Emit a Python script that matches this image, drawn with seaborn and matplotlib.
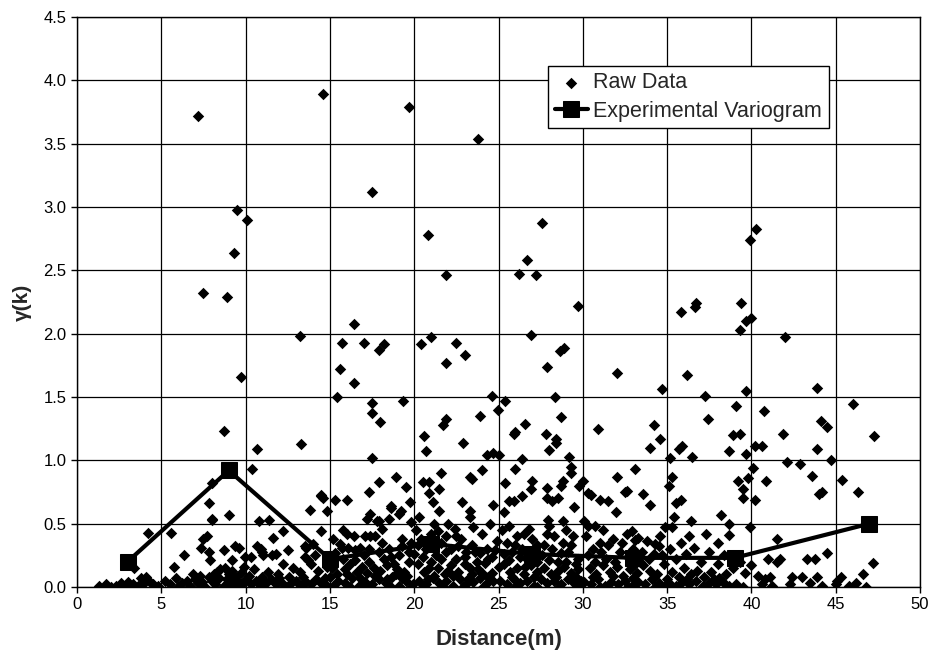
import matplotlib
matplotlib.use("Agg")
import matplotlib.pyplot as plt
import seaborn as sns
import pandas as pd

# Lag centres and semivariance of the experimental variogram
lag_dist = [3, 9, 15, 21, 27, 33, 39, 47]
lag_gamma = [0.20, 0.92, 0.22, 0.34, 0.26, 0.23, 0.23, 0.50]

# Raw semivariance cloud, grouped by 5 m distance band
dist_00_05 = [1.3, 1.7, 2.0, 2.3, 2.6, 2.9, 3.0, 3.3, 3.6, 3.8, 4.0, 4.1, 4.3, 4.5, 4.6, 4.8,
              3.4, 4.2]
gamma_00_05 = [0.01, 0.02, 0.00, 0.01, 0.03, 0.00, 0.04, 0.02, 0.01, 0.07, 0.03, 0.08, 0.05, 0.02, 0.00, 0.01,
               0.15, 0.43]

dist_05_10 = [7.2, 9.5, 9.3, 7.5, 8.9, 9.7, 8.7, 8.0, 7.8, 8.0, 9.0, 5.6, 7.7, 7.5, 7.35, 7.8, 8.7, 9.4,
              9.6, 6.35, 7.9, 9.2, 9.96, 5.75, 7.8, 8.5, 8.8, 8.3, 9.2, 9.7, 9.9, 8.0,
              5.5, 5.9, 6.2, 6.7, 7.2, 7.6, 8.2, 8.7, 9.2, 9.8, 6.0, 6.5, 7.0, 7.4, 8.0, 8.4,
              8.9, 9.4, 9.6, 10.0, 5.2, 6.9, 7.3, 8.1, 9.0, 9.5, 9.1]
gamma_05_10 = [3.72, 2.98, 2.64, 2.32, 2.29, 1.66, 1.23, 0.82, 0.66, 0.535, 0.57, 0.43, 0.40, 0.38, 0.305, 0.28, 0.29, 0.32,
               0.305, 0.25, 0.21, 0.21, 0.24, 0.16, 0.08, 0.14, 0.15, 0.12, 0.13, 0.11, 0.16, 0.53,
               0.02, 0.07, 0.03, 0.01, 0.03, 0.00, 0.02, 0.01, 0.03, 0.02, 0.00, 0.05, 0.06, 0.04, 0.05, 0.07,
               0.06, 0.08, 0.04, 0.06, 0.05, 0.10, 0.09, 0.10, 0.10, 0.00, 0.01]

dist_10_15 = [10.06, 14.6, 13.2, 10.7, 13.3, 10.4, 10.8, 11.4, 12.2, 11.65, 14.5, 14.5, 14.45, 14.6, 13.8, 14.8,
              10.7, 12.5, 13.5, 13.6, 10.3, 11.05, 11.55, 13.5, 13.7, 10.9, 11.0, 11.8, 12.2, 12.8, 14.0,
              14.1, 13.9, 11.3, 11.9, 12.6, 13.2, 14.3, 14.8, 10.5, 10.2,
              10.3, 10.6, 10.9, 11.2, 11.5, 11.8, 12.1, 12.4, 12.7, 13.0, 13.3, 13.6, 13.9, 14.2, 14.5,
              14.8, 12.0, 13.4, 14.7, 11.0]
gamma_10_15 = [2.90, 3.89, 1.985, 1.09, 1.13, 0.93, 0.52, 0.53, 0.445, 0.39, 0.44, 0.72, 0.73, 0.70, 0.61, 0.60,
               0.32, 0.29, 0.32, 0.31, 0.24, 0.25, 0.25, 0.24, 0.21, 0.30, 0.28, 0.26, 0.18, 0.15, 0.34,
               0.25, 0.18, 0.12, 0.10, 0.08, 0.12, 0.13, 0.16, 0.14, 0.09,
               0.02, 0.05, 0.01, 0.03, 0.06, 0.02, 0.04, 0.00, 0.03, 0.05, 0.01, 0.04, 0.02, 0.06, 0.03,
               0.01, 0.07, 0.08, 0.07, 0.08]

dist_15_20 = [17.5, 19.7, 16.4, 15.7, 17.0, 17.9, 18.2, 15.6, 16.4, 15.4, 17.5, 17.5, 18.0, 19.35, 17.5,
              16.0, 15.3, 17.3, 17.9, 18.9, 19.5, 19.75, 18.6, 18.6, 19.2, 19.1, 17.4, 17.2, 17.8, 17.9,
              18.5, 19.8, 15.2, 16.0, 16.4, 17.1, 17.4, 18.1, 19.3, 19.8, 15.7, 16.5, 16.8,
              15.1, 15.4, 15.8, 16.2, 16.6, 17.0, 17.3, 17.6, 17.9, 18.2, 18.5, 18.8, 19.1, 19.4, 19.7,
              15.5, 15.9, 16.3, 16.7, 17.1, 17.5, 17.9, 18.3, 18.7, 19.1, 19.5, 19.9, 15.2, 16.0, 17.2,
              18.0, 18.9, 19.6, 16.9, 18.4, 19.3, 15.6,
              15.3, 15.9, 16.1, 16.5, 16.8, 17.3, 17.7, 18.1, 18.4, 18.6, 19.0, 19.3, 19.7, 15.8, 17.7,
              16.2, 17.4, 18.6, 19.8, 15.0]
gamma_15_20 = [3.12, 3.79, 2.08, 1.93, 1.925, 1.87, 1.92, 1.72, 1.61, 1.50, 1.45, 1.37, 1.30, 1.47, 1.02,
               0.69, 0.69, 0.75, 0.83, 0.87, 0.79, 0.67, 0.62, 0.64, 0.60, 0.58, 0.58, 0.535, 0.52, 0.52,
               0.535, 0.51, 0.38, 0.42, 0.40, 0.40, 0.40, 0.455, 0.38, 0.35, 0.305, 0.29, 0.305,
               0.15, 0.10, 0.22, 0.18, 0.12, 0.25, 0.20, 0.15, 0.28, 0.22, 0.30, 0.18, 0.25, 0.12, 0.20,
               0.05, 0.03, 0.07, 0.01, 0.04, 0.02, 0.06, 0.03, 0.08, 0.01, 0.05, 0.02, 0.01, 0.10, 0.11,
               0.13, 0.10, 0.09, 0.16, 0.17, 0.32, 0.34,
               0.27, 0.14, 0.31, 0.21, 0.07, 0.30, 0.09, 0.35, 0.06, 0.24, 0.14, 0.07, 0.28, 0.45, 0.40,
               0.00, 0.00, 0.00, 0.00, 0.08]

dist_20_25 = [20.8, 21.9, 23.8, 20.4, 21.0, 22.5, 21.9, 23.0, 24.6, 24.95, 21.9, 21.7, 23.9, 20.6, 20.7,
              22.9, 24.3, 24.7, 20.5, 20.9, 21.6, 21.5, 20.9, 21.1, 21.5, 20.3, 23.3, 23.4, 24.0, 22.85,
              23.3, 23.3, 24.7, 22.0, 23.5, 24.5,
              20.1, 20.4, 20.7, 21.0, 21.3, 21.6, 21.9, 22.2, 22.5, 22.8, 23.1, 23.4, 23.7, 24.0, 24.3,
              24.6, 24.9, 20.2, 20.6, 21.0, 21.4, 21.8, 22.2, 22.6, 23.0, 23.4, 23.8, 24.2, 24.6, 25.0,
              20.3, 20.7, 21.1, 21.5, 21.9, 22.3, 22.7, 23.1, 23.5, 23.9, 24.3, 24.7, 20.5, 21.7, 22.9,
              24.1, 20.0, 22.4, 23.9, 21.2,
              20.2, 20.5, 20.9, 21.2, 21.6, 21.9, 22.3, 22.6, 23.0, 23.3, 23.6, 24.0, 24.4, 24.8, 20.8,
              22.0, 23.2, 24.4, 22.5, 21.4]
gamma_20_25 = [2.78, 2.46, 3.54, 1.92, 1.97, 1.93, 1.77, 1.83, 1.51, 1.40, 1.33, 1.28, 1.35, 1.195, 1.07,
               1.14, 1.04, 1.055, 0.83, 0.83, 0.90, 0.77, 0.74, 0.67, 0.60, 0.555, 0.87, 0.85, 0.92, 0.67,
               0.60, 0.55, 0.65, 0.50, 0.47, 0.50,
               0.45, 0.38, 0.30, 0.42, 0.25, 0.35, 0.40, 0.30, 0.22, 0.38, 0.28, 0.33, 0.20, 0.42, 0.30,
               0.24, 0.36, 0.18, 0.12, 0.20, 0.15, 0.10, 0.17, 0.12, 0.18, 0.10, 0.14, 0.19, 0.11, 0.16,
               0.05, 0.02, 0.07, 0.03, 0.05, 0.01, 0.06, 0.02, 0.04, 0.07, 0.03, 0.05, 0.00, 0.00, 0.00,
               0.00, 0.26, 0.46, 0.27, 0.50,
               0.33, 0.24, 0.15, 0.09, 0.22, 0.28, 0.09, 0.32, 0.24, 0.15, 0.28, 0.11, 0.22, 0.29, 0.06,
               0.13, 0.06, 0.08, 0.40, 0.44]

dist_25_30 = [27.6, 26.7, 26.2, 27.2, 29.7, 26.9, 28.65, 28.9, 27.9, 25.4, 28.35, 26.6, 25.9, 26.0, 27.8,
              28.4, 28.4, 28.0, 28.7, 25.05, 26.4, 29.2, 25.4, 26.0, 27.0, 26.9, 26.4, 25.6, 25.9, 25.35,
              27.9, 27.9, 28.2, 28.5, 28.7, 28.8, 29.3, 29.3, 29.5, 29.8, 30.0, 27.96, 28.8,
              25.2, 25.5, 25.8, 26.1, 26.4, 26.7, 27.0, 27.3, 27.6, 27.9, 28.2, 28.5, 28.8, 29.1, 29.4,
              29.7, 25.3, 25.7, 26.1, 26.5, 26.9, 27.3, 27.7, 28.1, 28.5, 28.9, 29.3, 29.7, 25.1, 25.5,
              25.9, 26.3, 26.7, 27.1, 27.5, 27.9, 28.3, 28.7, 29.1, 29.5, 29.9, 26.0, 27.3, 28.6, 29.8,
              25.6, 26.8, 28.0,
              25.3, 25.6, 26.0, 26.3, 26.6, 27.0, 27.3, 27.7, 28.0, 28.3, 28.7, 29.0, 29.3, 29.6, 25.8,
              27.1, 28.4, 29.6, 26.5, 29.0]
gamma_25_30 = [2.87, 2.58, 2.47, 2.46, 2.22, 1.99, 1.86, 1.89, 1.74, 1.47, 1.50, 1.285, 1.21, 1.22, 1.21,
               1.17, 1.14, 1.08, 1.345, 1.04, 1.01, 1.025, 0.82, 0.93, 0.835, 0.775, 0.72, 0.68, 0.68, 0.595,
               0.78, 0.70, 0.68, 0.70, 0.80, 0.84, 0.95, 0.90, 0.63, 0.80, 0.84, 0.53, 0.52,
               0.45, 0.35, 0.28, 0.40, 0.30, 0.22, 0.38, 0.33, 0.25, 0.42, 0.30, 0.20, 0.35, 0.28, 0.40,
               0.22, 0.18, 0.12, 0.15, 0.10, 0.17, 0.12, 0.15, 0.10, 0.13, 0.16, 0.11, 0.14, 0.05, 0.02,
               0.06, 0.03, 0.05, 0.01, 0.06, 0.03, 0.05, 0.02, 0.06, 0.03, 0.05, 0.00, 0.00, 0.00, 0.00,
               0.48, 0.46, 0.48,
               0.26, 0.21, 0.33, 0.24, 0.16, 0.27, 0.20, 0.33, 0.21, 0.40, 0.27, 0.20, 0.33, 0.18, 0.08,
               0.08, 0.08, 0.08, 0.42, 0.45]

dist_30_35 = [30.3, 30.5, 31.0, 31.5, 32.0, 32.5, 33.1, 31.95, 30.1, 30.3, 30.7, 30.9, 32.0, 34.7, 34.2,
              34.6, 34.0, 32.6, 33.6, 34.0, 33.3, 33.1, 34.5, 34.9,
              30.2, 30.6, 31.0, 31.4, 31.8, 32.2, 32.6, 33.0, 33.4, 33.8, 34.2, 34.6, 30.4, 30.8, 31.2,
              31.6, 32.0, 32.4, 32.8, 33.2, 33.6, 34.0, 34.4, 34.8, 30.1, 30.5, 30.9, 31.3, 31.7, 32.1,
              32.5, 32.9, 33.3, 33.7, 34.1, 34.5, 34.9, 31.0, 32.7, 34.3,
              30.3, 30.7, 31.1, 31.5, 31.9, 32.3, 32.7, 33.1, 33.5, 33.9, 34.3, 34.7, 30.6, 31.8, 33.0,
              34.2, 31.2, 32.9]
gamma_30_35 = [0.745, 0.73, 0.69, 0.68, 0.87, 0.75, 0.93, 0.59, 0.525, 0.48, 0.48, 1.245, 1.69, 1.56, 1.28,
               1.165, 1.10, 0.76, 0.735, 0.65, 0.39, 0.37, 0.32, 0.47,
               0.40, 0.30, 0.35, 0.22, 0.38, 0.28, 0.42, 0.30, 0.20, 0.36, 0.26, 0.40, 0.15, 0.10, 0.17,
               0.12, 0.16, 0.09, 0.14, 0.11, 0.17, 0.13, 0.10, 0.18, 0.04, 0.02, 0.06, 0.01, 0.04, 0.02,
               0.05, 0.01, 0.04, 0.02, 0.06, 0.03, 0.01, 0.00, 0.00, 0.00,
               0.25, 0.20, 0.28, 0.33, 0.20, 0.35, 0.24, 0.18, 0.28, 0.22, 0.34, 0.25, 0.08, 0.09, 0.07,
               0.08, 0.45, 0.44]

dist_35_40 = [39.4, 36.7, 36.65, 35.8, 39.7, 40.0, 39.3, 36.2, 37.25, 39.7, 39.1, 37.4, 38.9, 39.3, 35.7,
              35.9, 38.7, 39.7, 36.5, 35.2, 40.1, 39.2, 39.8, 35.3, 35.1, 39.5, 39.5, 35.5, 35.8, 35.4,
              36.4, 38.2, 38.7, 39.9, 37.3, 36.3, 38.0, 38.7, 35.3,
              35.2, 35.5, 35.8, 36.1, 36.6, 37.0, 37.5, 38.0, 38.4, 38.9, 39.3, 39.6, 35.3, 35.7, 36.0,
              36.4, 36.8, 37.2, 37.6, 38.1, 38.5, 35.1, 35.5, 35.9, 36.3, 36.7, 37.1, 37.5, 37.9, 38.3,
              38.7, 39.1, 39.5, 35.0, 36.2, 37.8, 40.0]
gamma_35_40 = [2.245, 2.245, 2.21, 2.175, 2.10, 2.12, 2.03, 1.675, 1.51, 1.55, 1.43, 1.325, 1.20, 1.21, 1.09,
               1.11, 1.07, 1.05, 1.025, 1.02, 0.94, 0.84, 0.86, 0.87, 0.80, 0.77, 0.70, 0.66, 0.69, 0.55,
               0.525, 0.565, 0.495, 0.475, 0.42, 0.405, 0.35, 0.41, 0.47,
               0.30, 0.22, 0.35, 0.26, 0.31, 0.20, 0.28, 0.18, 0.25, 0.15, 0.20, 0.11, 0.12, 0.08, 0.15,
               0.10, 0.13, 0.08, 0.12, 0.07, 0.10, 0.03, 0.01, 0.04, 0.02, 0.05, 0.01, 0.03, 0.02, 0.04,
               0.01, 0.02, 0.00, 0.06, 0.06, 0.06, 0.17]

dist_40_50 = [40.3, 39.9, 42.0, 43.9, 46.0, 40.75, 44.1, 44.5, 47.3, 41.9, 40.2, 40.6, 43.9, 42.1, 42.9,
              44.7, 43.6, 45.35, 40.85, 44.0, 44.2, 46.3, 40.2, 41.5, 44.5, 43.8, 43.3, 41.7, 41.5, 41.0,
              47.2,
              40.4, 40.8, 41.1, 42.4, 43.0, 43.9, 46.6, 45.3, 46.2, 45.8, 46.8, 44.2, 42.3, 41.2, 40.6,
              43.5, 45.0, 45.1]
gamma_40_50 = [2.83, 2.74, 1.97, 1.57, 1.445, 1.39, 1.31, 1.26, 1.19, 1.21, 1.11, 1.115, 1.09, 0.99, 0.97,
               1.00, 0.875, 0.845, 0.84, 0.735, 0.75, 0.75, 0.69, 0.38, 0.27, 0.225, 0.22, 0.225, 0.20, 0.22,
               0.19,
               0.09, 0.06, 0.08, 0.08, 0.08, 0.08, 0.10, 0.08, 0.03, 0.01, 0.00, 0.01, 0.02, 0.01, 0.02,
               0.03, 0.02, 0.05]

raw = pd.DataFrame({
    "dist": dist_00_05 + dist_05_10 + dist_10_15 + dist_15_20 + dist_20_25
            + dist_25_30 + dist_30_35 + dist_35_40 + dist_40_50,
    "gamma": gamma_00_05 + gamma_05_10 + gamma_10_15 + gamma_15_20 + gamma_20_25
             + gamma_25_30 + gamma_30_35 + gamma_35_40 + gamma_40_50,
})
vario = pd.DataFrame({"dist": lag_dist, "gamma": lag_gamma})

x_ticks = [0, 5, 10, 15, 20, 25, 30, 35, 40, 45, 50]
y_ticks = [0.0, 0.5, 1.0, 1.5, 2.0, 2.5, 3.0, 3.5, 4.0, 4.5]

sns.set_style("white")
plt.rcParams["font.family"] = ["Liberation Sans", "DejaVu Sans"]

fig = plt.figure(figsize=(9.32, 6.59), dpi=100)
ax = fig.add_axes([77 / 932, 1 - 587 / 659, 843 / 932, 570 / 659])

sns.scatterplot(data=raw, x="dist", y="gamma", marker="D", s=34, color="black",
                edgecolor="black", linewidth=0, label="Raw Data", ax=ax, zorder=3)
sns.lineplot(data=vario, x="dist", y="gamma", color="black", linewidth=3,
             marker="s", markersize=11, markeredgecolor="black",
             label="Experimental Variogram", ax=ax, zorder=4)

ax.set_xlim(0, 50)
ax.set_ylim(0, 4.5)
ax.set_xticks(x_ticks)
ax.set_yticks(y_ticks)
ax.set_xticklabels([str(v) for v in x_ticks])
ax.set_yticklabels([f"{v:.1f}" for v in y_ticks])
ax.grid(True, color="black", linewidth=0.9)
ax.set_axisbelow(True)
for side in ax.spines.values():
    side.set_color("black")
    side.set_linewidth(1.0)
ax.tick_params(axis="both", direction="out", length=4, width=1, color="black",
               labelsize=12, labelcolor="black", bottom=True, left=True)
ax.set_xlabel("Distance(m)", fontsize=16, fontweight="bold", labelpad=12)
ax.set_ylabel("γ(k)", fontsize=15, fontweight="bold", labelpad=8)

leg = ax.legend(loc="upper left", bbox_to_anchor=(0.559, 0.914), fontsize=15.5,
                frameon=True, fancybox=False, framealpha=1, edgecolor="black",
                borderpad=0.3, labelspacing=0.35, handlelength=1.55, handletextpad=0.25,
                borderaxespad=0)
leg.get_frame().set_linewidth(1.0)

fig.savefig("out.png", dpi=100)
